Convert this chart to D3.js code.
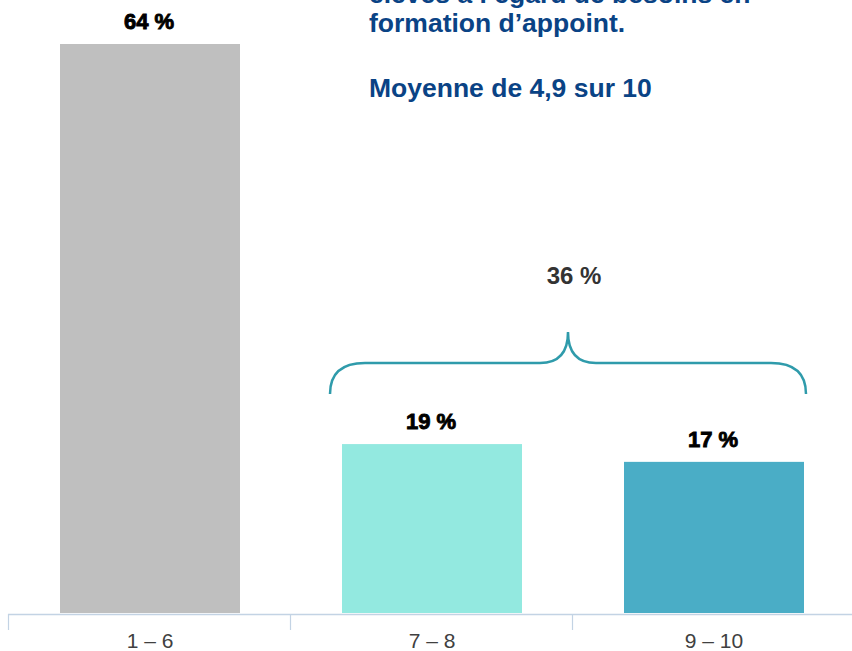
<!DOCTYPE html>
<html>
<head>
<meta charset="utf-8">
<script src="https://cdn.jsdelivr.net/npm/d3@7/dist/d3.min.js"></script>
<style>
  html, body { margin: 0; padding: 0; background: #fff; }
  svg { display: block; }
</style>
</head>
<body>
<svg id="chart" width="852" height="651"></svg>
<script>
// Score groups and share of respondents (%)
const categories = ["1 – 6", "7 – 8", "9 – 10"];
const values = [64, 19, 17];
const valueLabels = ["64 %", "19 %", "17 %"];
const barColors = ["#bfbfbf", "#93e9e0", "#4aadc6"];
const groupLabel = "36 %";
const noteLines = ["élevés à l’égard de besoins en", "formation d’appoint."];
const noteMean = "Moyenne de 4,9 sur 10";

const svg = d3.select("#chart");
const baseY = 613;
const font = "'Liberation Sans', Arial, sans-serif";

const x = d3.scaleBand().domain(categories).range([8, 854]).paddingInner(0).paddingOuter(0);
const y = d3.scaleLinear().domain([0, 64]).range([baseY, 44]);
const barW = 180;

// bars
svg.selectAll("rect.bar").data(values).join("rect")
  .attr("class", "bar")
  .attr("x", (d, i) => x(categories[i]) + x.bandwidth() / 2 - barW / 2 + 1)
  .attr("width", barW)
  .attr("y", d => y(d))
  .attr("height", d => baseY - y(d))
  .attr("fill", (d, i) => barColors[i]);

// value labels
svg.selectAll("text.val").data(values).join("text")
  .attr("class", "val")
  .attr("x", (d, i) => x(categories[i]) + x.bandwidth() / 2)
  .attr("y", d => y(d) - 15)
  .attr("text-anchor", "middle")
  .attr("font-family", font)
  .attr("font-weight", "bold")
  .attr("font-size", 22)
  .attr("fill", "#000")
  .attr("stroke", "#000")
  .attr("stroke-width", 0.9)
  .text((d, i) => valueLabels[i]);

// axis: baseline, band boundary ticks and category labels
const axisColor = "#c3d3e4";
svg.append("line")
  .attr("x1", 8).attr("x2", 852)
  .attr("y1", baseY + 1.5).attr("y2", baseY + 1.5)
  .attr("stroke", axisColor).attr("stroke-width", 1.5);
svg.selectAll("line.tick").data(categories).join("line")
  .attr("class", "tick")
  .attr("x1", d => x(d) + 0.5).attr("x2", d => x(d) + 0.5)
  .attr("y1", baseY + 1).attr("y2", baseY + 17)
  .attr("stroke", axisColor).attr("stroke-width", 1.2);
svg.selectAll("text.cat").data(categories).join("text")
  .attr("class", "cat")
  .attr("x", d => x(d) + x.bandwidth() / 2 + 1)
  .attr("y", 648)
  .attr("text-anchor", "middle")
  .attr("font-family", font)
  .attr("font-size", 21)
  .attr("fill", "#404040")
  .text(d => d);

// curly brace grouping the two upper score bands
const bx0 = x(categories[1]) + x.bandwidth() / 2 - barW / 2 - 11;
const bx1 = x(categories[2]) + x.bandwidth() / 2 + barW / 2 + 3;
const bmid = (bx0 + bx1) / 2;
const yEnd = 394, yBar = 363, yTip = 332;
const r = 31;
const brace = d3.path();
brace.moveTo(bx0, yEnd);
brace.quadraticCurveTo(bx0, yBar, bx0 + r + 4, yBar);
brace.lineTo(bmid - 28, yBar);
brace.quadraticCurveTo(bmid, yBar, bmid, yTip);
brace.quadraticCurveTo(bmid, yBar, bmid + 28, yBar);
brace.lineTo(bx1 - r - 4, yBar);
brace.quadraticCurveTo(bx1, yBar, bx1, yEnd);
svg.append("path")
  .attr("d", brace.toString())
  .attr("fill", "none")
  .attr("stroke", "#2f9bab")
  .attr("stroke-width", 2.5);

svg.append("text")
  .attr("x", bmid + 6)
  .attr("y", 284)
  .attr("text-anchor", "middle")
  .attr("font-family", font)
  .attr("font-weight", "bold")
  .attr("font-size", 24)
  .attr("fill", "#333333")
  .text(groupLabel);

// note block at the top (first line runs past the top edge)
const note = svg.append("g")
  .attr("font-family", font)
  .attr("font-weight", "bold")
  .attr("font-size", 26.5)
  .attr("fill", "#0a4385");
noteLines.forEach((t, i) => {
  note.append("text").attr("x", 369).attr("y", 3 + i * 29).text(t);
});
note.append("text").attr("x", 369).attr("y", 97).text(noteMean);
</script>
</body>
</html>
